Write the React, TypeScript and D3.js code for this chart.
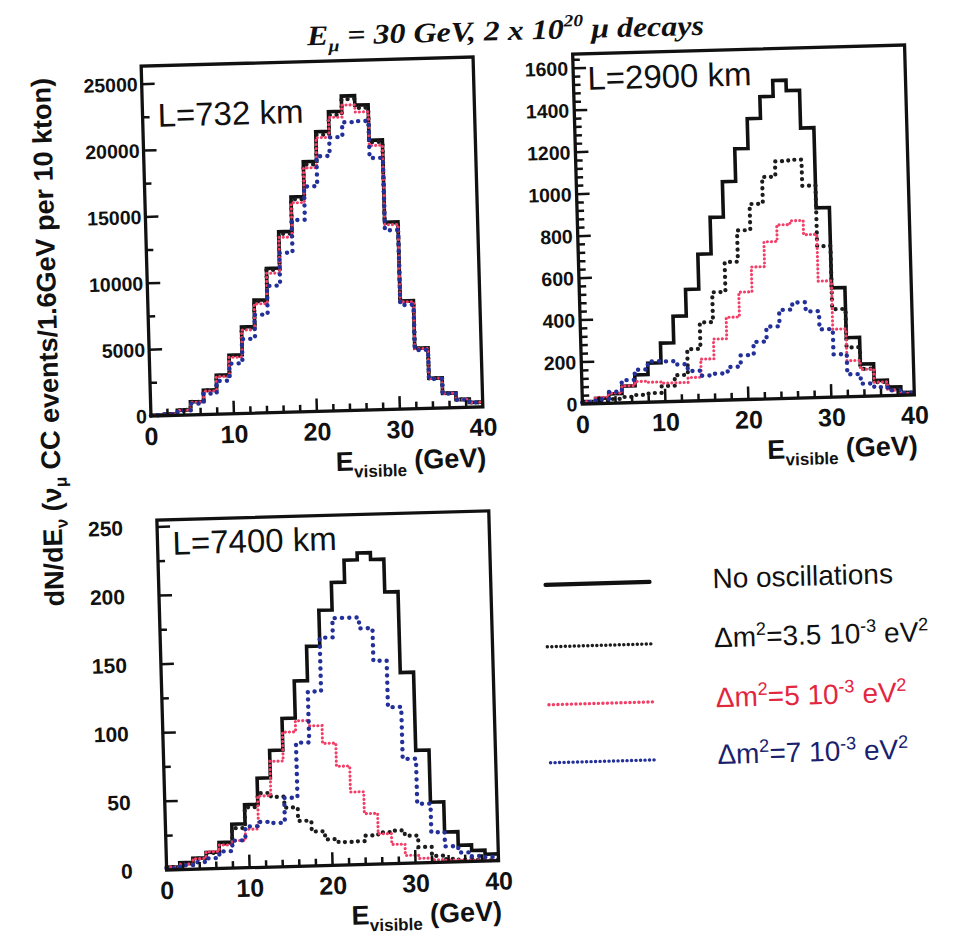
import React from 'react';
import * as d3 from 'd3';

// ---------- data ----------
const E_MAX = 40;
const BIN_WIDTH = 1.6;
const binStarts = d3.range(25).map((i) => +(i * BIN_WIDTH).toFixed(2));

// L = 732 km  (events / 1.6 GeV)
const L732_noOsc = [60, 110, 390, 990, 1840, 2940, 4420, 6520, 8510, 10870, 13600, 16200, 18820, 21050, 22530, 23680, 22970, 20300, 14100, 8130, 4550, 2260, 1100, 600, 350];
const L732_dm35 = [58, 108, 385, 975, 1815, 2900, 4365, 6440, 8410, 10740, 13440, 16010, 18600, 20810, 22280, 23440, 22760, 20150, 14040, 8100, 4535, 2250, 1095, 598, 348];
const L732_dm5 = [55, 100, 370, 950, 1760, 2820, 4250, 6280, 8220, 10500, 13180, 15750, 18350, 20600, 22100, 23000, 22450, 19900, 13900, 8060, 4510, 2240, 1090, 590, 345];
const L732_dm7 = [45, 85, 320, 840, 1560, 2500, 3780, 5600, 7400, 9550, 12000, 14450, 16950, 19200, 20600, 21700, 21760, 18950, 13480, 7830, 4400, 2200, 1060, 580, 340];

// L = 2900 km
const L2900_noOsc = [12, 25, 45, 80, 132, 186, 280, 406, 532, 698, 872, 1040, 1195, 1337, 1440, 1515, 1465, 1285, 903, 520, 281, 153, 73, 40, 12];
const L2900_dm35 = [6, 12, 20, 28, 36, 43, 75, 125, 247, 373, 515, 657, 806, 930, 1057, 1130, 1135, 1010, 720, 418, 234, 130, 65, 32, 10];
const L2900_dm5 = [12, 30, 48, 81, 100, 95, 89, 89, 112, 198, 292, 394, 512, 630, 748, 827, 845, 777, 554, 323, 171, 128, 65, 25, 8];
const L2900_dm7 = [8, 20, 54, 108, 156, 194, 192, 176, 143, 119, 127, 157, 211, 273, 344, 422, 455, 411, 324, 203, 106, 60, 41, 24, 10];

// L = 7400 km
const L7400_noOsc = [2, 5, 8, 12, 19, 32, 46, 65, 85, 108, 135, 160, 186, 206, 222, 227, 222, 198, 139, 82, 44, 22, 12, 8, 5];
const L7400_dm35 = [2, 4.3, 7.6, 11.5, 18, 29, 44, 54, 51, 43, 33, 25, 19, 16.7, 17, 21, 23, 24, 20, 11.5, 4.8, 2.2, 1.4, 1, 0.5];
const L7400_dm5 = [2, 3.8, 7.6, 12.4, 17, 20, 28, 52, 77, 98, 106, 102, 89, 72, 53, 37, 22, 14, 5.7, 3.3, 1.9, 1.4, 1, 1, 0.5];
const L7400_dm7 = [1, 3, 5, 7.6, 12.4, 20, 30, 33, 32, 50, 90, 127, 166, 180, 180, 172, 148, 114, 76, 43, 22, 11.5, 6.7, 3.8, 2.9];

const xTickLabels = [0, 10, 20, 30, 40];
const yTicks732 = [0, 5000, 10000, 15000, 20000, 25000];
const yTicks2900 = [0, 200, 400, 600, 800, 1000, 1200, 1400, 1600];
const yTicks7400 = [0, 50, 100, 150, 200, 250];

const seriesKeys = ['noOsc', 'dm35', 'dm5', 'dm7'];
const legendMain = ['No oscillations', 'Δm', 'Δm', 'Δm'];
const legendValues = ['', '=3.5 10', '=5 10', '=7 10'];

// ---------- style ----------
const SANS = "'Liberation Sans', Arial, Helvetica, sans-serif";
const SERIF = "'Liberation Serif', 'Times New Roman', serif";
const RED = '#f23f68';
const RED_TEXT = '#e3263f';
const BLUE = '#23309a';
const BLUE_TEXT = '#1a1f6e';
const INK = '#111';

const STYLES: Record<string, { stroke: string; width: number; dash: string | null }> = {
  noOsc: { stroke: INK, width: 3.6, dash: null },
  dm35: { stroke: '#1c1c1c', width: 4.2, dash: '0.1 6.6' },
  dm5: { stroke: RED, width: 3.1, dash: '0.1 4' },
  dm7: { stroke: BLUE, width: 4.4, dash: '0.1 7.2' },
};

const PW = 332;
const PH = 350;
const ROT = -1.6;

const panels = [
  { key: 'p732', cx: 312, cy: 236.5, yMax: 26350, yMajor: 5000, yMinor: 2500, yTicks: yTicks732, yGap: 4, yFont: 19.5, tag: 'L=732 km', tagX: 15, tagY: 61, series: [L732_noOsc, L732_dm35, L732_dm5, L732_dm7] },
  { key: 'p2900', cx: 743.5, cy: 224.5, yMax: 1667, yMajor: 200, yMinor: 40, yTicks: yTicks2900, yGap: 5, yFont: 19.5, tag: 'L=2900 km', tagX: 14, tagY: 36, series: [L2900_noOsc, L2900_dm35, L2900_dm5, L2900_dm7] },
  { key: 'p7400', cx: 327.7, cy: 690.4, yMax: 255, yMajor: 50, yMinor: 25, yTicks: yTicks7400, yGap: 34, yFont: 21, tag: 'L=7400 km', tagX: 15, tagY: 35, series: [L7400_noOsc, L7400_dm35, L7400_dm5, L7400_dm7] },
];

function Panel({ p }: { p: any }) {
  const x = d3.scaleLinear().domain([0, E_MAX]).range([0, PW]);
  const y = d3.scaleLinear().domain([0, p.yMax]).range([PH, 0]);
  const line = d3
    .line<[number, number]>()
    .x((d) => x(d[0]))
    .y((d) => y(d[1]))
    .curve(d3.curveStepAfter);
  const toPts = (vals: number[]): [number, number][] => [
    ...vals.map((v, i) => [binStarts[i], v] as [number, number]),
    [E_MAX, vals[vals.length - 1]],
  ];
  const xMinor = d3.range(2, E_MAX, 2);
  const yMinor = d3.range(p.yMinor, p.yMax, p.yMinor);
  return (
    <g transform={`rotate(${ROT} ${p.cx} ${p.cy}) translate(${p.cx - PW / 2} ${p.cy - PH / 2})`}>
      {p.series.map((vals: number[], i: number) => {
        const st = STYLES[seriesKeys[i]];
        return (
          <path
            key={i}
            d={line(toPts(vals)) || ''}
            fill="none"
            stroke={st.stroke}
            strokeWidth={st.width}
            strokeDasharray={st.dash || undefined}
            strokeLinecap={st.dash ? 'round' : 'butt'}
            strokeLinejoin="miter"
          />
        );
      })}
      {xMinor.map((t) => {
        const major = t % 10 === 0;
        return <line key={'xt' + t} x1={x(t)} x2={x(t)} y1={PH} y2={PH - (major ? 13 : 7)} stroke={INK} strokeWidth={2.5} />;
      })}
      {yMinor.map((t) => {
        const major = Math.abs(t % p.yMajor) < 1e-6;
        return <line key={'yt' + t} x1={0} x2={major ? 13 : 7} y1={y(t)} y2={y(t)} stroke={INK} strokeWidth={2.5} />;
      })}
      <rect x={0} y={0} width={PW} height={PH} fill="none" stroke={INK} strokeWidth={3.3} />
      {xTickLabels.map((t) => (
        <text key={'xl' + t} x={x(t)} y={PH + 29} textAnchor="middle" fontFamily={SANS} fontWeight="bold" fontSize={25} fill={INK}>
          {t}
        </text>
      ))}
      {p.yTicks.map((t: number) => (
        <text key={'yl' + t} x={-p.yGap} y={y(t)} dy="0.36em" textAnchor="end" fontFamily={SANS} fontWeight="bold" fontSize={p.yFont} fill={INK}>
          {t}
        </text>
      ))}
      <text x={p.tagX} y={p.tagY} fontFamily={SANS} fontSize={33} fill={INK}>
        {p.tag}
      </text>
      <text x={PW + 2} y={PH + 60} textAnchor="end" fontFamily={SANS} fontWeight="bold" fontSize={27} fill={INK}>
        E
        <tspan fontSize={17} dy={7}>visible</tspan>
        <tspan dy={-7}> (GeV)</tspan>
      </text>
    </g>
  );
}

function Legend() {
  const rows = [
    { y: 580, ty: 588, st: STYLES.noOsc, text: INK },
    { y: 642, ty: 647, st: { ...STYLES.dm35, width: 3.4, dash: '0.1 4.4' }, text: INK },
    { y: 700, ty: 707, st: { ...STYLES.dm5, width: 3.4, dash: '0.1 4.4' }, text: RED_TEXT },
    { y: 758, ty: 764, st: { ...STYLES.dm7, width: 3.4, dash: '0.1 4.4' }, text: BLUE_TEXT },
  ];
  return (
    <g transform={`rotate(${ROT} 720 670)`}>
      {rows.map((r, i) => (
        <g key={i}>
          <line
            x1={548}
            x2={652}
            y1={r.y}
            y2={r.y}
            stroke={r.st.stroke}
            strokeWidth={i === 0 ? 4.2 : r.st.width}
            strokeDasharray={r.st.dash || undefined}
            strokeLinecap="round"
          />
          <text x={715} y={r.ty} fontFamily={SANS} fontSize={28} fill={r.text}>
            {i === 0 ? (
              legendMain[0]
            ) : (
              <>
                {legendMain[i]}
                <tspan fontSize={18} dy={-11}>2</tspan>
                <tspan dy={11}>{legendValues[i]}</tspan>
                <tspan fontSize={18} dy={-11}>-3</tspan>
                <tspan dy={11}> eV</tspan>
                <tspan fontSize={18} dy={-11}>2</tspan>
              </>
            )}
          </text>
        </g>
      ))}
    </g>
  );
}

export default function App() {
  return (
    <svg
      width={953}
      height={937}
      viewBox="0 0 953 937"
      style={{ position: 'absolute', left: 0, top: 0, background: '#fff' }}
    >
      <rect x={0} y={0} width={953} height={937} fill="#fff" />
      <g transform="rotate(-1.5 505 30)">
        <text x={307} y={40} fontFamily={SERIF} fontStyle="italic" fontWeight="bold" fontSize={28} fill={INK} textLength={397} lengthAdjust="spacingAndGlyphs">
          E<tspan fontSize={17} dy={7}>μ</tspan>
          <tspan dy={-7}> = 30 GeV, 2 x 10</tspan>
          <tspan fontSize={17} dy={-12}>20</tspan>
          <tspan dy={12}> μ decays</tspan>
        </text>
      </g>
      {panels.map((p) => (
        <Panel key={p.key} p={p} />
      ))}
      <Legend />
      <text
        transform="translate(57 342) rotate(-91.5)"
        textAnchor="middle"
        fontFamily={SANS}
        fontWeight="bold"
        fontSize={27}
        fill={INK}
      >
        dN/dE<tspan fontSize={17} dy={6}>ν</tspan>
        <tspan dy={-6}> (ν</tspan>
        <tspan fontSize={17} dy={6}>μ</tspan>
        <tspan dy={-6}> CC events/1.6GeV per 10 kton)</tspan>
      </text>
    </svg>
  );
}
